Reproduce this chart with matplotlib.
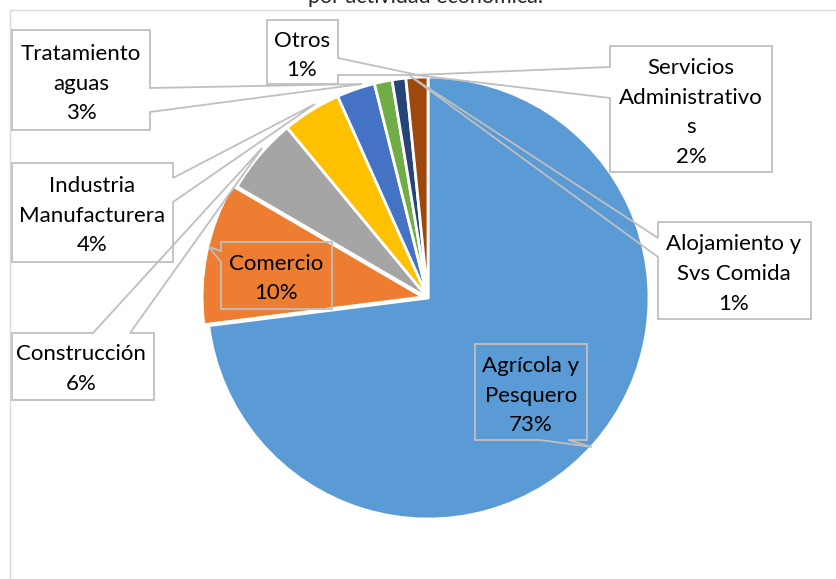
import matplotlib
matplotlib.use("Agg")
import matplotlib.pyplot as plt
from matplotlib.patches import Polygon
from matplotlib.lines import Line2D

# ---- data ----
categories = ["Agrícola y\nPesquero", "Comercio", "Construcción",
              "Industria\nManufacturera", "Tratamiento\naguas", "Otros",
              "Alojamiento y\nSvs Comida", "Servicios\nAdministrativo\ns"]
shares = [73.0, 10.4, 5.6, 4.3, 2.8, 1.3, 1.0, 1.6]
colors = ["#5B9BD5", "#ED7D31", "#A5A5A5", "#FFC000",
          "#4472C4", "#70AD47", "#264478", "#9E480E"]
title_text = "por actividad económica."

FONT = ["Lato", "DejaVu Sans"]
W, H = 836, 579

fig = plt.figure(figsize=(W / 100, H / 100), dpi=100)
ax = fig.add_axes([0, 0, 1, 1])

explode = [0, 5, 0, 0, 0, 0, 0, 0]
ax.pie(shares, colors=colors, center=(428, 298), radius=221,
       startangle=-90, counterclock=True, explode=explode,
       wedgeprops=dict(edgecolor="white", linewidth=2))

ax.set_xlim(0, W)
ax.set_ylim(H, 0)
ax.set_aspect("auto")
ax.axis("off")

# chart-area border (left and top visible)
ax.add_line(Line2D([10, 10, W], [H, 10, 10], color="#D9D9D9", lw=1.0))

# title (cut off at top, as in the reference)
ax.text(426, 3, title_text, ha="center", va="baseline", fontsize=15.5,
        family=FONT, color="#262626")

# callout shapes (pixel layout) and text centers
callouts = [
    # Agrícola
    dict(poly=[(475, 344), (587, 344), (587, 440), (568, 440), (592, 447), (540, 440), (475, 440)],
         xc=531, yc=394),
    # Comercio
    dict(poly=[(221, 242), (332, 242), (332, 309), (221, 309), (221, 262), (209, 247), (221, 251)],
         xc=276, yc=277),
    # Construcción
    dict(poly=[(12, 333), (93, 333), (262, 148), (130, 333), (154, 333), (154, 400), (12, 400)],
         xc=81, yc=367.5),
    # Industria
    dict(poly=[(12, 163), (173, 163), (173, 178), (315, 104), (173, 202), (173, 262), (12, 262)],
         xc=92, yc=214),
    # Tratamiento
    dict(poly=[(12, 30), (150, 30), (150, 88), (362, 84), (150, 112), (150, 130), (12, 130)],
         xc=81, yc=82),
    # Otros
    dict(poly=[(267, 20), (338, 20), (338, 58), (418, 75), (338, 75), (338, 84), (267, 84)],
         xc=302, yc=54),
    # Alojamiento
    dict(poly=[(658, 222), (811, 222), (811, 319), (658, 319), (658, 257), (410, 76), (658, 238)],
         xc=734, yc=272.5),
    # Servicios
    dict(poly=[(610, 46), (772, 46), (772, 172), (610, 172), (610, 98), (415, 75), (610, 67)],
         xc=691, yc=111),
]

LS = 29.5
for cat, val, co in zip(categories, shares, callouts):
    ax.add_patch(Polygon(co["poly"], closed=True, fill=False,
                         edgecolor="#BFBFBF", lw=1.3, joinstyle="miter"))
    lines = cat.split("\n") + [f"{val:.0f}%"]
    n = len(lines)
    for i, ln in enumerate(lines):
        y = co["yc"] + (i - (n - 1) / 2) * LS
        ax.text(co["xc"], y + 7.5, ln, ha="center", va="baseline",
                fontsize=16, family=FONT, color="#000000")

fig.savefig("out.png", dpi=100)
